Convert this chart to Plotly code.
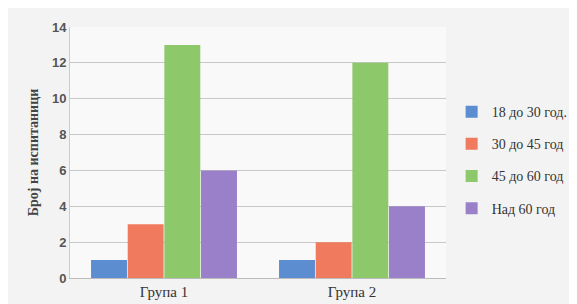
import plotly.graph_objects as go

categories = ["Група 1", "Група 2"]
series_names = ["18 до 30 год.", "30 до 45 год", "45 до 60 год", "Над 60 год"]
values_18_30 = [1, 1]
values_30_45 = [3, 2]
values_45_60 = [13, 12]
values_60 = [6, 4]
y_ticks = [0, 2, 4, 6, 8, 10, 12, 14]

colors = ["#5b8dd0", "#f07a5e", "#8dc86a", "#9a80c8"]
all_values = [values_18_30, values_30_45, values_45_60, values_60]

fig = go.Figure()
for i, (name, vals, col) in enumerate(zip(series_names, all_values, colors)):
    fig.add_trace(go.Bar(x=categories, y=vals, name=name, legendgroup=f"g{i}",
                         marker=dict(color=col, line=dict(width=0))))

fig.update_layout(
    width=577, height=304,
    margin=dict(l=62, r=137, t=17, b=32),
    paper_bgcolor="#f3f3f3", plot_bgcolor="#f9f9f9",
    barmode="group", bargap=0.22, bargroupgap=0.02,
    font=dict(family="Liberation Serif", size=13, color="#333"),
    showlegend=True,
    legend=dict(x=1.015, y=0.47, xanchor="left", yanchor="middle",
                font=dict(family="Liberation Serif", size=14, color="#333"),
                bgcolor="rgba(0,0,0,0)", tracegroupgap=11, itemwidth=30,
                traceorder="grouped"),
    xaxis=dict(showgrid=False, tickfont=dict(size=15, family="Liberation Serif", color="#333"),
               showline=True, linecolor="#bbb", linewidth=1, ticks=""),
    yaxis=dict(range=[0, 14], tickvals=y_ticks, showgrid=True, gridcolor="#c8c8c8",
               tickfont=dict(family="Liberation Sans", size=13, color="#555", weight="bold"),
               showline=True, linecolor="#cccccc", zeroline=False,
               title=dict(text="Број на испитаници", font=dict(family="Liberation Serif", size=14, color="#444", weight="bold"), standoff=10)),
)

fig.write_html("out.html")
